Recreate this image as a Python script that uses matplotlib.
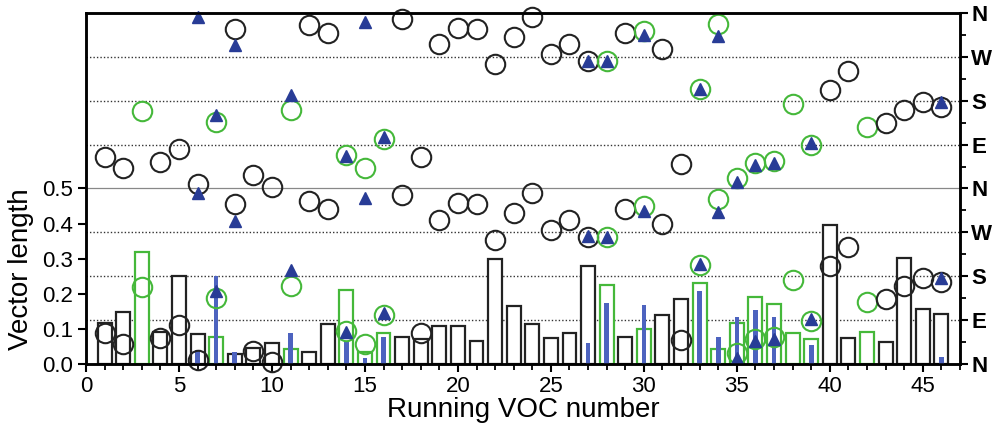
import numpy as np
import matplotlib
matplotlib.use("Agg")
import matplotlib.pyplot as plt
from matplotlib.ticker import MultipleLocator

plt.rcParams['font.family'] = ['Liberation Sans', 'DejaVu Sans']

# running VOC number 1..46
voc = np.arange(1, 47)

# group of each VOC: 'k' = black symbols, 'g' = green symbols
group = ['k', 'k', 'g', 'k', 'k', 'k', 'g', 'k', 'k', 'k',
         'g', 'k', 'k', 'g', 'g', 'g', 'k', 'k', 'k', 'k',
         'k', 'k', 'k', 'k', 'k', 'k', 'k', 'g', 'k', 'g',
         'k', 'k', 'g', 'g', 'g', 'g', 'g', 'g', 'g', 'k',
         'k', 'g', 'k', 'k', 'k', 'k']

# vector length (bars)
length = [0.117, 0.148, 0.318, 0.090, 0.250, 0.085, 0.076, 0.028, 0.045, 0.059,
          0.043, 0.033, 0.114, 0.212, 0.034, 0.088, 0.078, 0.070, 0.107, 0.108,
          0.066, 0.298, 0.165, 0.113, 0.075, 0.088, 0.279, 0.224, 0.078, 0.100,
          0.139, 0.186, 0.231, 0.042, 0.117, 0.192, 0.171, 0.089, 0.071, 0.395,
          0.074, 0.090, 0.063, 0.302, 0.158, 0.143]

# vector direction in degrees (circles)
direction = [64, 42, 158, 54, 81, 9, 136, 328, 27, 4,
             160, 335, 318, 68, 42, 101, 347, 64, 296, 330,
             328, 255, 310, 351, 275, 296, 261, 261, 318, 324,
             287, 50, 204, 338, 22, 52, 56, 173, 89, 202,
             240, 127, 134, 161, 177, 168]

# second data set (blue bars and triangles)
blue_voc = [6, 7, 8, 11, 14, 15, 16, 27, 28, 30, 33, 34, 35, 36, 37, 39, 46]
blue_length = [0.040, 0.250, 0.033, 0.087, 0.062, 0.016, 0.078, 0.061, 0.173,
               0.169, 0.207, 0.077, 0.133, 0.155, 0.135, 0.053, 0.019]
blue_direction = [351, 150, 294, 192, 66, 341, 105, 262, 261, 314, 205, 312,
                  13, 48, 52, 93, 177]

compass = ['N', 'E', 'S', 'W', 'N', 'E', 'S', 'W', 'N']

colors = {'k': '#222222', 'g': '#45b83a'}
tri_color = '#283c96'
bar_blue = '#4d63bf'

fig = plt.figure(figsize=(9.94, 4.30), dpi=100)
ax = fig.add_axes([0.0865, 0.1535, 0.8793, 0.8163])

# reference lines for the compass scale
for yv in np.arange(0.125, 1.0, 0.125):
    if abs(yv - 0.5) < 1e-9:
        ax.axhline(yv, color='#888888', lw=0.9, zorder=0)
    else:
        ax.axhline(yv, color='#333333', lw=1.0, ls=(0, (1, 1.5)), zorder=0)

# bars
for x, h, g in zip(voc, length, group):
    ax.bar(x, h, width=0.75, facecolor='white', edgecolor=colors[g],
           linewidth=1.6, zorder=2)
ax.bar(blue_voc, blue_length, width=0.25, color=bar_blue, zorder=3)

# directions: drawn twice (0-360 and 360-720)
dir_y = np.array(direction) / 720.0
for x, d, g in zip(voc, dir_y, group):
    for off in (0.0, 0.5):
        ax.plot(x, d + off, 'o', ms=14, mfc='none', mec=colors[g], mew=1.5,
                zorder=4, clip_on=False)
bdir_y = np.array(blue_direction) / 720.0
for off in (0.0, 0.5):
    ax.plot(blue_voc, bdir_y + off, '^', ms=8, color=tri_color, ls='none',
            zorder=5, clip_on=False)

ax.set_xlim(0, 47)
ax.set_ylim(0, 1.0)
ax.set_yticks(np.arange(0, 0.51, 0.1))
ax.set_yticklabels([f'{v:.1f}' for v in np.arange(0, 0.51, 0.1)])
ax.xaxis.set_major_locator(MultipleLocator(5))
ax.xaxis.set_minor_locator(MultipleLocator(1))
ax.tick_params(axis='both', which='major', direction='out', length=6, width=1.5,
               labelsize=16, pad=3)
ax.tick_params(axis='x', which='minor', direction='out', length=4, width=1.3)
ax.tick_params(axis='y', right=False)
for s in ax.spines.values():
    s.set_linewidth(1.8)
ax.set_xlabel('Running VOC number', fontsize=20, labelpad=0)
ax.set_ylabel('Vector length', fontsize=20, labelpad=4)
ax.yaxis.set_label_coords(-0.06, 0.27)

ax2 = ax.twinx()
ax2.set_ylim(0, 1.0)
ax2.set_yticks(np.arange(0, 1.01, 0.125))
ax2.set_yticklabels(compass, fontsize=16, fontweight='bold')
ax2.yaxis.set_minor_locator(MultipleLocator(0.0625))
ax2.tick_params(axis='y', which='major', direction='out', length=6, width=1.5, pad=2)
ax2.tick_params(axis='y', which='minor', direction='out', length=4, width=1.3)
for s in ax2.spines.values():
    s.set_linewidth(1.8)

fig.savefig('out.png', dpi=100)
